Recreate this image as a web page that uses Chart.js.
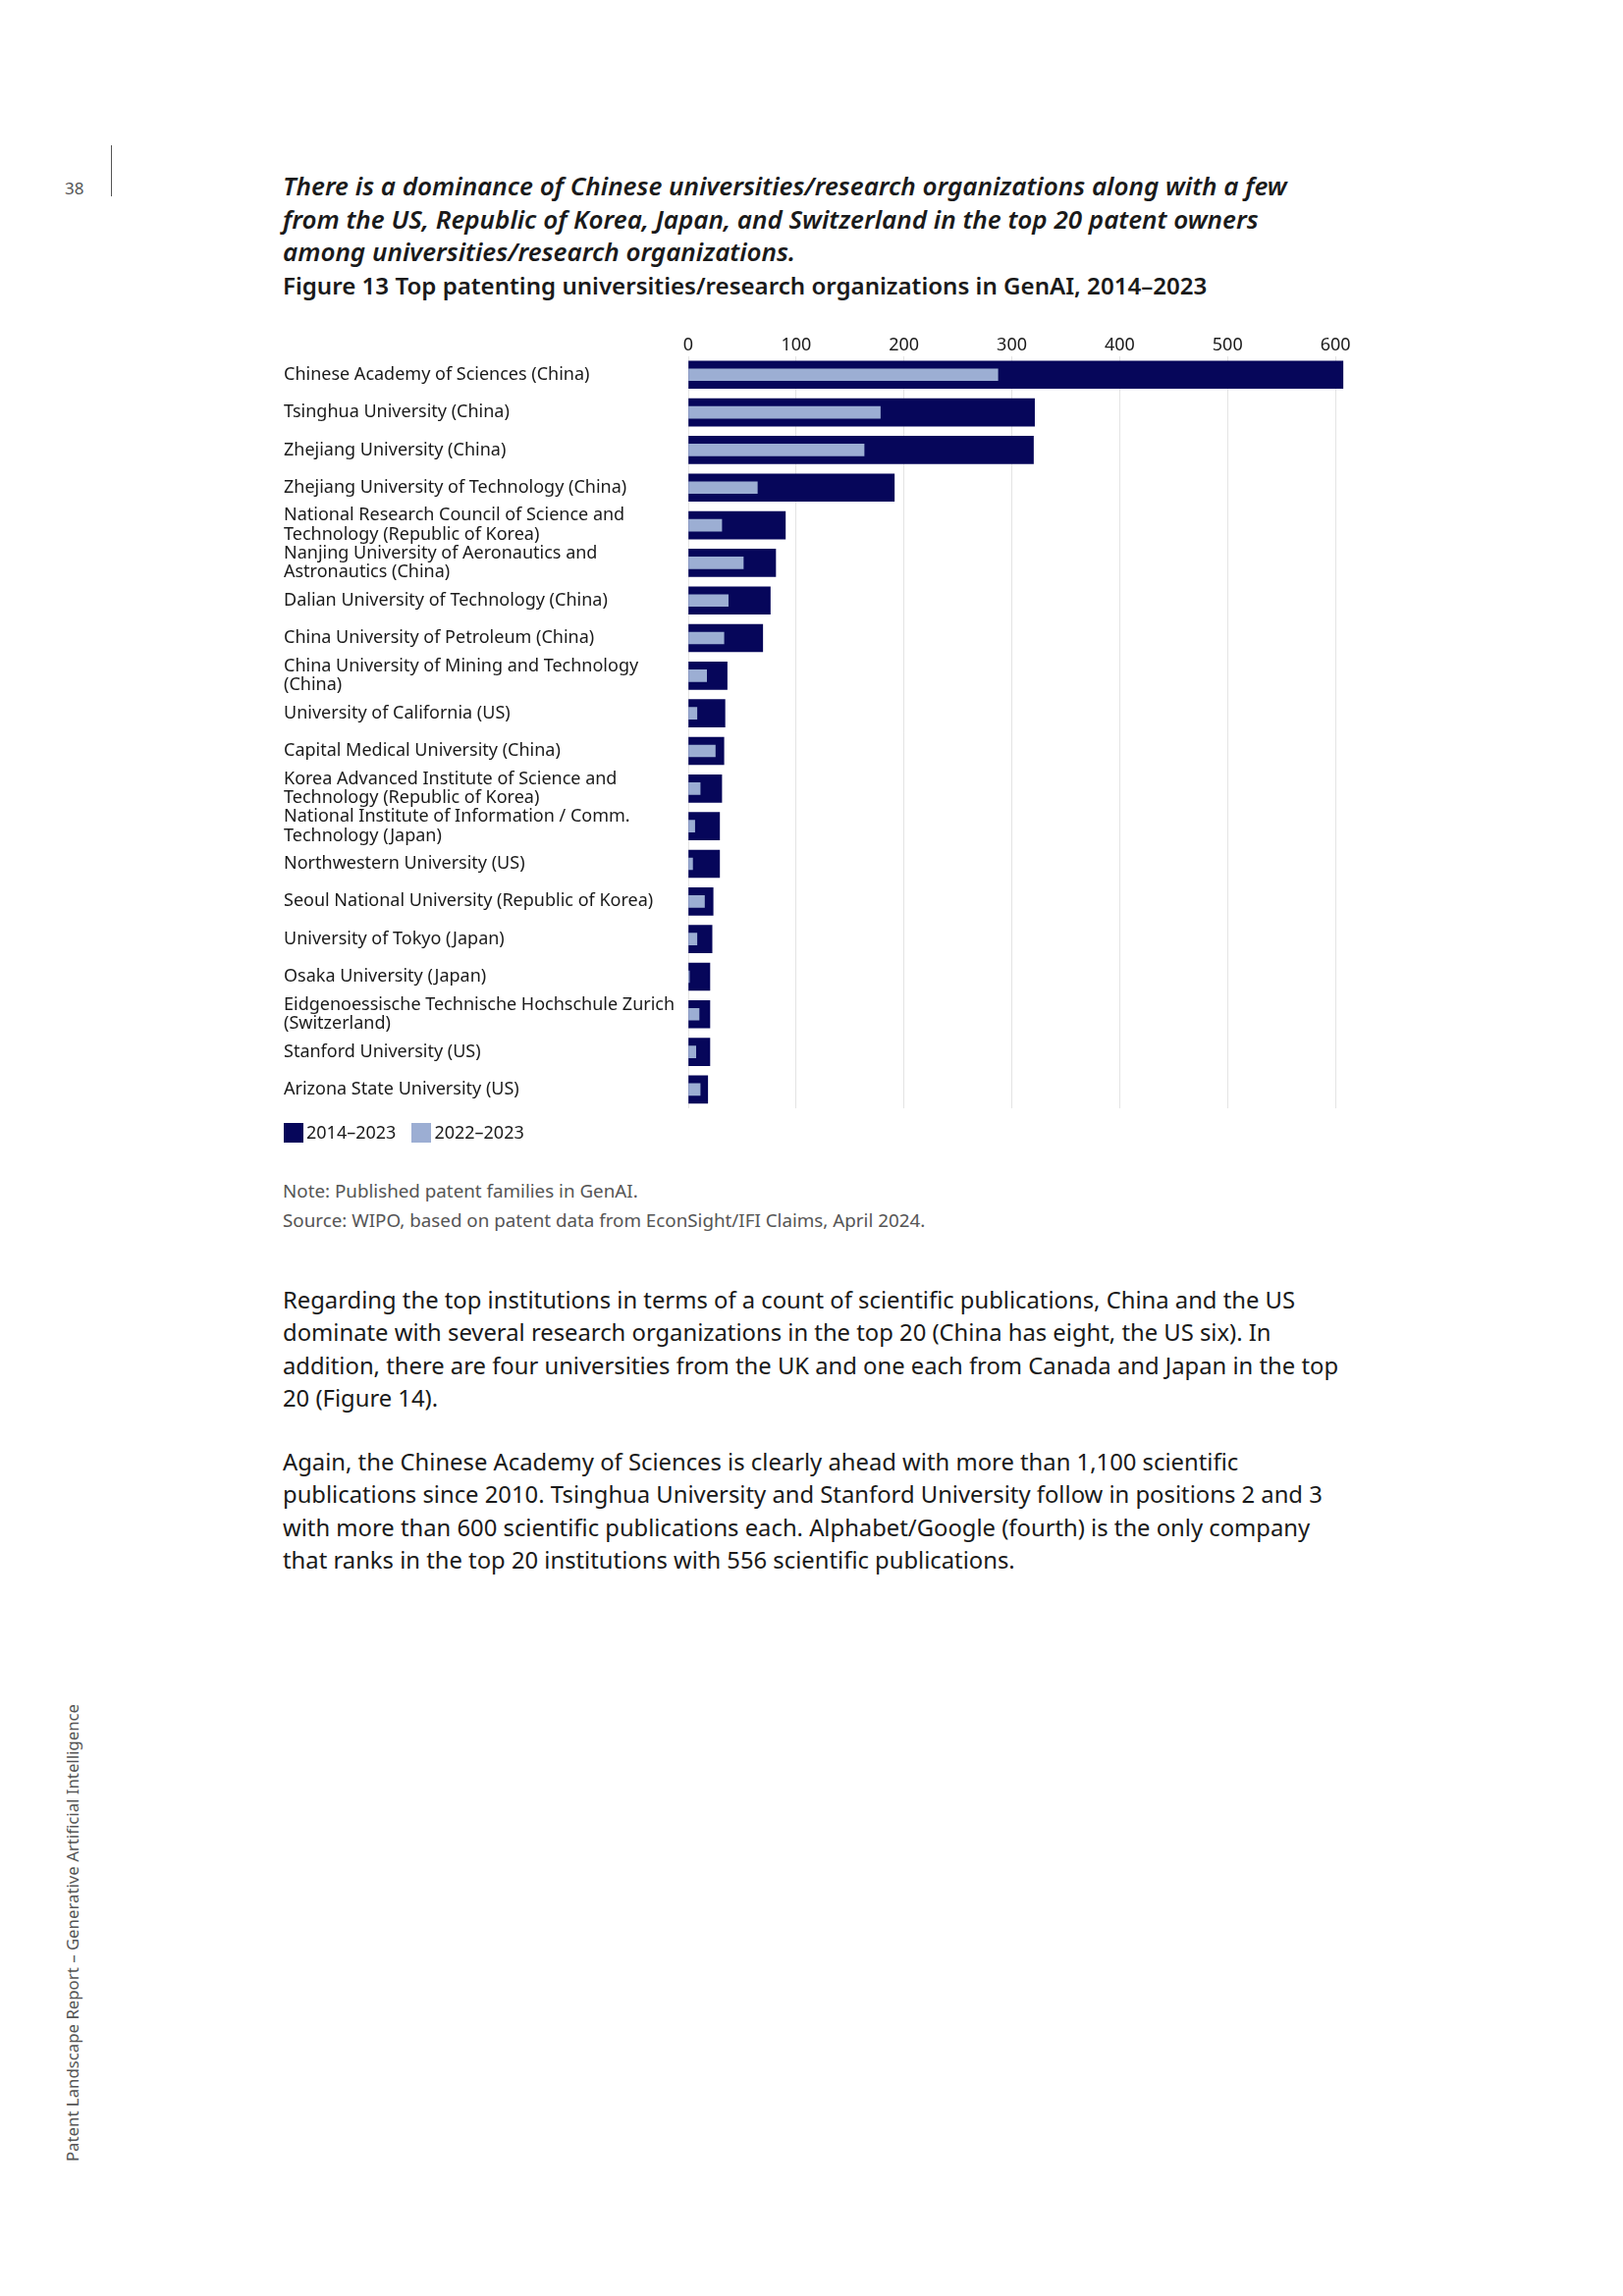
<!DOCTYPE html>
<html>
<head>
<meta charset="utf-8">
<script src="https://cdn.jsdelivr.net/npm/chart.js@4.4.0/dist/chart.umd.min.js"></script>
<style>
  body { margin: 0; background: #fff; font-family: "Noto Sans", sans-serif; color: #1a1a1a; }
  .page { position: relative; width: 1653px; height: 2339px; overflow: hidden; }
  .abs { position: absolute; white-space: nowrap; }
  #pagenum { left: 66px; top: 181px; font-size: 17px; color: #555; line-height: 22px; }
  #rule { left: 113px; top: 148px; width: 1px; height: 52px; background: #555; }
  #lead { left: 288px; top: 173px; font-size: 26px; font-weight: 600; font-style: italic; line-height: 33.5px; }
  #figtitle { left: 288px; top: 276px; font-size: 24.1px; font-weight: 600; line-height: 30px; }
  #chartbox { left: 289px; top: 341px; width: 1101px; height: 801px; }
  #legend { left: 289px; top: 1140px; font-size: 18px; line-height: 22px; }
  #legend span.item { display: inline-block; margin-right: 16px; vertical-align: middle; }
  #legend span.box { display: inline-block; width: 20px; height: 20px; margin-right: 3px; vertical-align: -4px; }
  .note { left: 288px; font-size: 18.8px; color: #555; line-height: 24px; }
  #body1, #body2 { left: 288px; font-size: 23.8px; line-height: 33.4px; }
  #side { left: 73px; top: 1969px; font-size: 16.8px; color: #555; transform: translate(-50%, -50%) rotate(-90deg); }
</style>
</head>
<body>
<div class="page">
  <div class="abs" id="pagenum">38</div>
  <div class="abs" id="rule"></div>
  <div class="abs" id="lead">There is a dominance of Chinese universities/research organizations along with a few<br>from the US, Republic of Korea, Japan, and Switzerland in the top 20 patent owners<br>among universities/research organizations.</div>
  <div class="abs" id="figtitle">Figure 13 Top patenting universities/research organizations in GenAI, 2014–2023</div>
  <div class="abs" id="chartbox"><canvas id="patentChart"></canvas></div>
  <div class="abs" id="legend"></div>
  <div class="abs note" style="top:1201px">Note: Published patent families in GenAI.</div>
  <div class="abs note" style="top:1231px">Source: WIPO, based on patent data from EconSight/IFI Claims, April 2024.</div>
  <div class="abs" id="body1" style="top:1308px">Regarding the top institutions in terms of a count of scientific publications, China and the US<br>dominate with several research organizations in the top 20 (China has eight, the US six). In<br>addition, there are four universities from the UK and one each from Canada and Japan in the top<br>20 (Figure 14).</div>
  <div class="abs" id="body2" style="top:1473px">Again, the Chinese Academy of Sciences is clearly ahead with more than 1,100 scientific<br>publications since 2010. Tsinghua University and Stanford University follow in positions 2 and 3<br>with more than 600 scientific publications each. Alphabet/Google (fourth) is the only company<br>that ranks in the top 20 institutions with 556 scientific publications.</div>
  <div class="abs" id="side">Patent Landscape Report – Generative Artificial Intelligence</div>
</div>
<script>
var institutions = [
    'Chinese Academy of Sciences (China)',
    'Tsinghua University (China)',
    'Zhejiang University (China)',
    'Zhejiang University of Technology (China)',
    ['National Research Council of Science and', 'Technology (Republic of Korea)'],
    ['Nanjing University of Aeronautics and', 'Astronautics (China)'],
    'Dalian University of Technology (China)',
    'China University of Petroleum (China)',
    ['China University of Mining and Technology', '(China)'],
    'University of California (US)',
    'Capital Medical University (China)',
    ['Korea Advanced Institute of Science and', 'Technology (Republic of Korea)'],
    ['National Institute of Information / Comm.', 'Technology (Japan)'],
    'Northwestern University (US)',
    'Seoul National University (Republic of Korea)',
    'University of Tokyo (Japan)',
    'Osaka University (Japan)',
    ['Eidgenoessische Technische Hochschule Zurich', '(Switzerland)'],
    'Stanford University (US)',
    'Arizona State University (US)'
];
var families20142023 = [607, 321, 320, 191, 90, 81, 76, 69, 36, 34, 33, 31, 29, 29, 23, 22, 20, 20, 20, 18];
var families20222023 = [287, 178, 163, 64, 31, 51, 37, 33, 17, 8, 25, 11, 6, 4, 15, 8, 1, 10, 7, 11];
var seriesNames = ['2014–2023', '2022–2023'];
var seriesColors = ['#06065a', '#9caed3'];
var xTicks = [0, 100, 200, 300, 400, 500, 600];

var ctx = document.getElementById('patentChart').getContext('2d');
var patentChart = new Chart(ctx, {
    type: 'bar',
    data: {
        labels: institutions,
        datasets: [{
            label: seriesNames[0],
            data: families20142023,
            backgroundColor: seriesColors[0],
            borderWidth: 0,
            barThickness: 28,
            grouped: false,
            order: 2
        }, {
            label: seriesNames[1],
            data: families20222023,
            backgroundColor: seriesColors[1],
            borderWidth: 0,
            barThickness: 12,
            grouped: false,
            order: 1
        }]
    },
    options: {
        indexAxis: 'y',
        responsive: true,
        maintainAspectRatio: false,
        animation: false,
        layout: { padding: { left: 0, right: 20, top: 0, bottom: 0 } },
        plugins: {
            tooltip: { enabled: false },
            legend: { display: false }
        },
        scales: {
            x: {
                position: 'top',
                min: 0,
                max: 609,
                grid: { color: '#e4e4e4', drawTicks: false },
                border: { display: false },
                afterBuildTicks: function(scale) {
                    scale.ticks = xTicks.map(function(v) { return { value: v }; });
                },
                ticks: {
                    padding: 0,
                    color: '#1a1a1a',
                    font: { family: 'Noto Sans', size: 18 }
                }
            },
            y: {
                grid: { display: false },
                border: { display: false },
                ticks: {
                    crossAlign: 'far',
                    autoSkip: false,
                    color: '#1a1a1a',
                    font: { family: 'Noto Sans', size: 18, lineHeight: 1.1 }
                },
                afterFit: function(scale) { scale.width = 412; }
            }
        }
    }
});

// legend built from the chart's own datasets
var legendEl = document.getElementById('legend');
patentChart.data.datasets.forEach(function(ds) {
    var item = document.createElement('span');
    item.className = 'item';
    var box = document.createElement('span');
    box.className = 'box';
    box.style.background = ds.backgroundColor;
    item.appendChild(box);
    item.appendChild(document.createTextNode(ds.label));
    legendEl.appendChild(item);
});
</script>
</body>
</html>
